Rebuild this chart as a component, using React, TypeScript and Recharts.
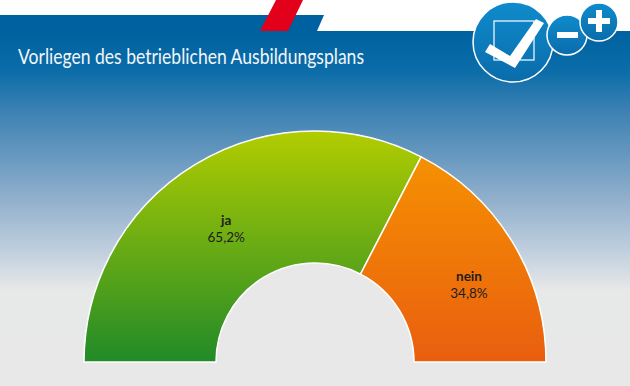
import { PieChart, Pie, Cell } from 'recharts';

const answers = ['ja', 'nein'];
const shares = [65.2, 34.8];
const shareLabels = ['65,2%', '34,8%'];
const title = 'Vorliegen des betrieblichen Ausbildungsplans';

const data = answers.map((name, i) => ({ name, value: shares[i], label: shareLabels[i] }));

const FONT = 'Lato, "Noto Sans", sans-serif';
const CX = 315;
const CY = 362;
const RAD = Math.PI / 180;
// hand placed in the original, so nudge from the mid radius
const labelNudge: Record<string, number[]> = { ja: [-3, 8], nein: [13, 9] };

function SliceLabel(props: any) {
  const { midAngle, payload } = props;
  const r = 165;
  const [nx, ny] = labelNudge[payload.name];
  const x = CX + r * Math.cos(midAngle * RAD) + nx;
  const y = CY - r * Math.sin(midAngle * RAD) + ny;
  return (
    <text x={x} textAnchor="middle" fill="#1d1d1b" fontFamily={FONT} fontSize={13.5}>
      <tspan x={x} y={y - 4} fontWeight={700}>{payload.name}</tspan>
      <tspan x={x} y={y + 13}>{payload.label}</tspan>
    </text>
  );
}

function Header() {
  return (
    <svg width={630} height={386} style={{ position: 'absolute', left: 0, top: 0 }}>
      <defs>
        <linearGradient id="bg" x1="0" y1="31" x2="0" y2="386" gradientUnits="userSpaceOnUse">
          <stop offset="0" stopColor="#0061a0" />
          <stop offset="0.11" stopColor="#0a6ca8" />
          <stop offset="0.22" stopColor="#3a80b2" />
          <stop offset="0.36" stopColor="#6a9ac0" />
          <stop offset="0.48" stopColor="#93b1cd" />
          <stop offset="0.62" stopColor="#c0cfde" />
          <stop offset="0.73" stopColor="#e7e8e8" />
          <stop offset="1" stopColor="#e8e8e8" />
        </linearGradient>
        <linearGradient id="badge" x1="0" y1="0" x2="0" y2="1">
          <stop offset="0" stopColor="#0f8bcc" />
          <stop offset="1" stopColor="#0a6cab" />
        </linearGradient>
      </defs>
      <rect x={0} y={0} width={630} height={386} fill="#fff" />
      <rect x={0} y={31} width={630} height={355} fill="url(#bg)" />
      <polygon points="0,15 324,15 317,31 0,31" fill="#0061a0" />
      <polygon points="276,0 303,0 288,31 260,31" fill="#e2001a" />
      <text x={18} y={64} fill="#f2f6fa" fontFamily={FONT} fontSize={20.5} textLength={346} lengthAdjust="spacingAndGlyphs">{title}</text>
      <circle cx={CX} cy={CY} r={99} fill="#e8e8e8" />
      <circle cx={513} cy={42} r={40} fill="url(#badge)" stroke="#fff" strokeWidth={1.5} />
      <rect x={494} y={21} width={40} height={39} fill="none" stroke="#fff" strokeWidth={1.2} />
      <polygon points="490,44 510,56 536,19 544,23 515,68 485,52" fill="#fff" />
      <circle cx={567} cy={35} r={20} fill="url(#badge)" stroke="#fff" strokeWidth={1.5} />
      <rect x={557} y={32} width={21} height={6} fill="#fff" />
      <circle cx={599} cy={22} r={19} fill="url(#badge)" stroke="#fff" strokeWidth={1.5} />
      <rect x={588} y={18} width={22} height={6} fill="#fff" />
      <rect x={596} y={10} width={6} height={22} fill="#fff" />
    </svg>
  );
}

export default function App() {
  return (
    <div style={{ position: 'fixed', left: 0, top: 0, width: 630, height: 386, overflow: 'hidden' }}>
      <Header />
      <div style={{ position: 'absolute', left: 0, top: 0 }}>
        <PieChart width={630} height={386} margin={{ top: 0, right: 0, bottom: 0, left: 0 }}>
          <defs>
            <linearGradient id="green" x1="0" y1="131" x2="0" y2="362" gradientUnits="userSpaceOnUse">
              <stop offset="0" stopColor="#b2cd00" />
              <stop offset="1" stopColor="#218a28" />
            </linearGradient>
            <linearGradient id="orange" x1="0" y1="131" x2="0" y2="362" gradientUnits="userSpaceOnUse">
              <stop offset="0" stopColor="#f79700" />
              <stop offset="1" stopColor="#e95e0f" />
            </linearGradient>
          </defs>
          <Pie
            data={data}
            dataKey="value"
            cx={CX}
            cy={CY}
            startAngle={180}
            endAngle={0}
            innerRadius={99}
            outerRadius={231}
            paddingAngle={0}
            stroke="#fff"
            strokeWidth={1.5}
            label={SliceLabel}
            labelLine={false}
            isAnimationActive={false}
          >
            <Cell fill="url(#green)" />
            <Cell fill="url(#orange)" />
          </Pie>
        </PieChart>
      </div>
    </div>
  );
}
